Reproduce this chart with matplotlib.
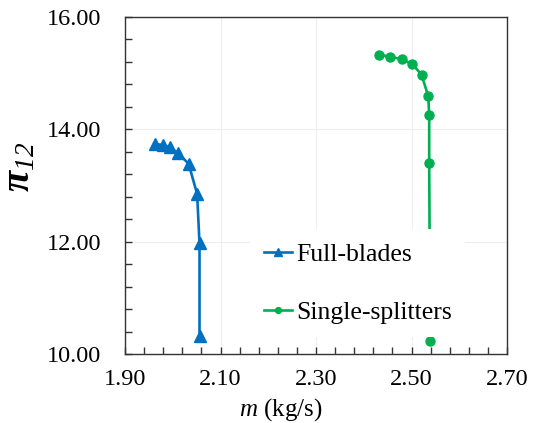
import matplotlib.pyplot as plt
from matplotlib.ticker import FixedLocator, MultipleLocator, FormatStrFormatter

plt.rcParams['font.family'] = ['Liberation Serif', 'DejaVu Serif']
plt.rcParams['mathtext.fontset'] = 'custom'
plt.rcParams['mathtext.rm'] = 'Liberation Serif:italic'
plt.rcParams['mathtext.it'] = 'Liberation Serif:italic'
plt.rcParams['mathtext.bf'] = 'Liberation Serif:italic:bold'

# Full-blades (mass flow, pressure ratio)
full_m = [1.963, 1.979, 1.994, 2.010, 2.033, 2.051, 2.056, 2.056]
full_pi = [13.74, 13.72, 13.68, 13.58, 13.39, 12.85, 11.97, 10.32]

# Single-splitters
split_m = [2.432, 2.455, 2.479, 2.502, 2.521, 2.535, 2.537, 2.537, 2.539]
split_pi = [15.33, 15.29, 15.25, 15.16, 14.97, 14.59, 14.25, 13.40, 10.23]

x_ticks = [1.90, 2.10, 2.30, 2.50, 2.70]

blue = '#0070C0'
green = '#00B050'

fig = plt.figure(figsize=(5.37, 4.23), dpi=100)
ax = fig.add_axes([0.2328, 0.163, 0.7114, 0.797])

ax.plot(full_m, full_pi, color=blue, lw=1.9, marker='^', ms=8,
        label='Full-blades', zorder=3)
ax.plot(split_m, split_pi, color=green, lw=1.9, marker='o', ms=6.5,
        label='Single-splitters', zorder=3)

ax.set_xlim(1.9, 2.7)
ax.set_ylim(10, 16)
ax.xaxis.set_major_locator(FixedLocator(x_ticks))
ax.xaxis.set_minor_locator(FixedLocator([1.9 + 0.04 * i for i in range(21)]))
ax.yaxis.set_major_locator(MultipleLocator(2))
ax.yaxis.set_minor_locator(MultipleLocator(0.4))
ax.xaxis.set_major_formatter(FormatStrFormatter('%.2f'))
ax.yaxis.set_major_formatter(FormatStrFormatter('%.2f'))

ax.tick_params(which='both', direction='in', length=5, width=1,
               labelsize=17.5, color='#333333')
ax.tick_params(axis='x', pad=11)
ax.tick_params(axis='y', pad=17)

ax.grid(True, which='major', color='#ededed', lw=0.8)
ax.set_axisbelow(True)
for s in ax.spines.values():
    s.set_color('#333333')
    s.set_linewidth(1)

ax.set_xlabel('$m$ (kg/s)', fontsize=18)
ax.xaxis.set_label_coords(0.408, -0.125)
ax.set_ylabel(r'$\mathbf{π}_{12}$', fontsize=28)
ax.yaxis.set_label_coords(-0.228, 0.555)

leg = ax.legend(loc='center left', bbox_to_anchor=(0.328, 0.21),
                fontsize=18.5, frameon=True, fancybox=False, framealpha=1,
                edgecolor='none', facecolor='white', handlelength=1.1,
                handletextpad=0.15, labelspacing=1.35, borderpad=0.53,
                markerscale=0.65, borderaxespad=0)

fig.savefig('out.png', dpi=100)
